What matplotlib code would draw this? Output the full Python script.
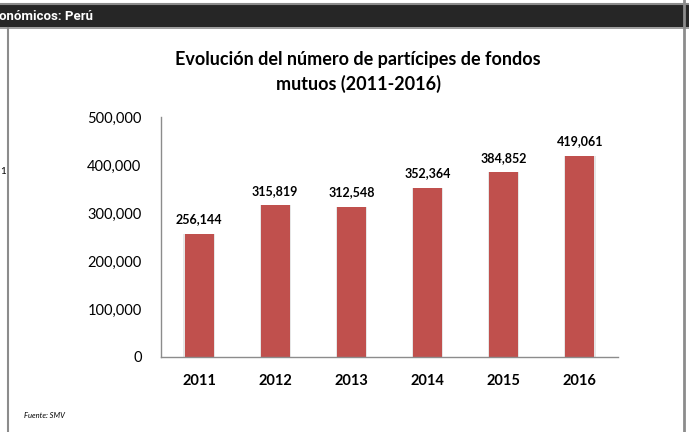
import matplotlib
matplotlib.use("Agg")
import matplotlib.pyplot as plt
from matplotlib.lines import Line2D
from matplotlib.patches import Rectangle

# ──────────────────────────────────────────────────────────────────────────────
# Data
years = ["2011", "2012", "2013", "2014", "2015", "2016"]
participes = [256144, 315819, 312548, 352364, 384852, 419061]
y_ticks = [0, 100000, 200000, 300000, 400000, 500000]
title = "Evolución del número de partícipes de fondos\nmutuos (2011-2016)"
header = "onómicos: Perú"
source = "Fuente: SMV"
# ──────────────────────────────────────────────────────────────────────────────

W, H = 689, 432
fig = plt.figure(figsize=(W / 100, H / 100), dpi=100)
fig.patch.set_facecolor("white")

# page frame: header bar and borders
fig.add_artist(Rectangle((0, 1 - 27 / H), 1, 22 / H, transform=fig.transFigure,
                         facecolor="#262626", edgecolor="none"))
fig.add_artist(Line2D([0, 1], [1 - 4 / H] * 2, transform=fig.transFigure,
                      color="#8c8c8c", lw=1.5))
fig.add_artist(Line2D([0, 1], [1 - 27.5 / H] * 2, transform=fig.transFigure,
                      color="#8c8c8c", lw=1.2))
fig.add_artist(Line2D([8 / W] * 2, [0, 1 - 27.5 / H], transform=fig.transFigure,
                      color="#8c8c8c", lw=1.5))
fig.add_artist(Line2D([683.5 / W] * 2, [0, 1], transform=fig.transFigure,
                      color="#8c8c8c", lw=2))
fig.text(-1 / W, 1 - 16 / H, header, color="white", fontsize=9.5, fontweight="bold",
         family="Roboto", va="center", ha="left")
fig.text(0.5 / W, 1 - 172 / H, "1", fontsize=7, family="Lato", va="center")
fig.text(24 / W, 1 - 415 / H, source, fontsize=5.5, style="italic",
         family="Lato", va="center")

fig.text(358 / W, 1 - 72 / H, title, fontsize=13, fontweight="bold",
         family="Lato", ha="center", va="center", linespacing=1.4)

# chart
ax = fig.add_axes([161 / W, 1 - 357 / H, 457 / W, 240 / H])
x = range(len(years))
# faint shadow behind bars
ax.bar(list(x), participes, width=0.41, color="#e6e6e6", zorder=1)
bars = ax.bar(x, participes, width=0.38, color="#C0504D", zorder=2)
for b, v in zip(bars, participes):
    ax.text(b.get_x() + b.get_width() / 2, v + 18000, f"{v:,}",
            ha="center", va="bottom", fontsize=9, fontweight="bold", family="Lato")

ax.set_xlim(-0.5, len(years) - 0.5)
ax.set_ylim(0, 500000)
ax.set_yticks(y_ticks)
ax.set_yticklabels([f"{t:,}" for t in y_ticks], family="Lato", fontsize=10.5)
ax.set_xticks(list(x))
ax.set_xticklabels(years, family="Lato", fontsize=10.5, fontweight="bold")
ax.tick_params(length=0)
ax.tick_params(axis="x", pad=12)
ax.tick_params(axis="y", pad=14)
for s in ["top", "right"]:
    ax.spines[s].set_visible(False)
for s in ["left", "bottom"]:
    ax.spines[s].set_color("#8c8c8c")
    ax.spines[s].set_linewidth(1)

fig.savefig("out.png", dpi=100)
